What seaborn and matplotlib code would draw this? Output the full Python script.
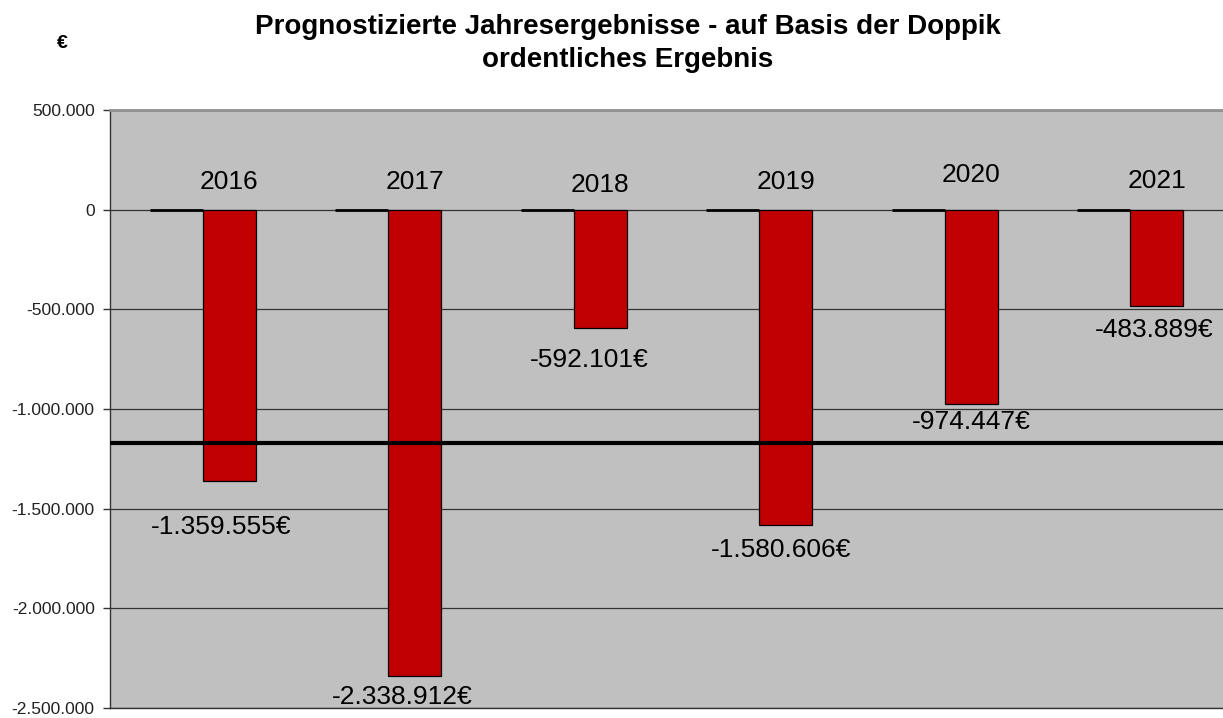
import numpy as np
import pandas as pd
import matplotlib.pyplot as plt
import seaborn as sns

years = ['2016', '2017', '2018', '2019', '2020', '2021']
ergebnis = [-1359555, -2338912, -592101, -1580606, -974447, -483889]
basis = [0, 0, 0, 0, 0, 0]
durchschnitt = -1170000
yticks = [500000, 0, -500000, -1000000, -1500000, -2000000, -2500000]

# label offsets below bar end (points), as placed in the original
lab_dy = [-33, -15, -23, -18, -13, -17]
lab_dx = [-6, -9, -8, -3, 0, -2]
year_dy = [20, 20, 18, 20, 25, 21]

def de_fmt(v):
    return f'{v:,.0f}'.replace(',', '.')

df = pd.DataFrame({
    'Jahr': years * 2,
    'Wert': basis + ergebnis,
    'Reihe': ['basis'] * len(years) + ['ergebnis'] * len(years),
})

sns.set_style('white')
plt.rcParams['font.family'] = ['Liberation Sans', 'DejaVu Sans']
plt.rcParams['text.color'] = 'black'

fig = plt.figure(figsize=(12.23, 7.18), dpi=100)
ax = fig.add_axes([110/1223, 10/718, 1113/1223, 598/718])
ax.set_facecolor('#C0C0C0')

sns.barplot(data=df, x='Jahr', y='Wert', hue='Reihe', order=years,
            hue_order=['basis', 'ergebnis'], palette=['#C0C0C0', '#C00000'],
            saturation=1, width=0.57, edgecolor='black', linewidth=0.9,
            ax=ax, legend=False, zorder=3)

# zero-height bars of the first series show as short thick lines at 0
for p in ax.patches[:len(years)]:
    p.set_linewidth(2)

ax.set_ylim(yticks[-1], yticks[0])
ax.set_xlim(-0.5, len(years) - 0.5)
ax.set_yticks(yticks)
ax.set_yticklabels([de_fmt(v) for v in yticks], fontsize=12.5, color='#222222')
ax.grid(axis='y', color='#333333', linewidth=0.9, zorder=0)
ax.set_axisbelow(True)
ax.axhline(durchschnitt, color='black', linewidth=3, zorder=4)

ax.set_xticks([])
ax.set_xlabel('')
ax.set_ylabel('')
ax.tick_params(axis='y', length=5, width=1, color='#333333', pad=6, left=True)
for s in ['left', 'bottom']:
    ax.spines[s].set_color('#333333')
    ax.spines[s].set_linewidth(1)
ax.spines['top'].set_color('#909090')
ax.spines['top'].set_linewidth(2)
ax.spines['right'].set_visible(False)

bar_off = 0.57 / 4
for i, (yr, v) in enumerate(zip(years, ergebnis)):
    ax.annotate(yr, (i + bar_off, 0), xytext=(0, year_dy[i]), textcoords='offset points',
                ha='center', va='center', fontsize=19, color='black')
    ax.annotate(de_fmt(v) + '€', (i + bar_off, v), xytext=(lab_dx[i], lab_dy[i]),
                textcoords='offset points', ha='center', va='center',
                fontsize=19, color='black')

fig.text(628/1223, 1 - 27/718, 'Prognostizierte Jahresergebnisse - auf Basis der Doppik',
         ha='center', va='center', fontsize=20, fontweight='bold', color='black')
fig.text(628/1223, 1 - 60/718, 'ordentliches Ergebnis',
         ha='center', va='center', fontsize=20, fontweight='bold', color='black')
fig.text(62/1223, 1 - 44/718, '€', ha='center', va='center', fontsize=14,
         fontweight='bold', color='black')

fig.savefig('out.png', dpi=100)
